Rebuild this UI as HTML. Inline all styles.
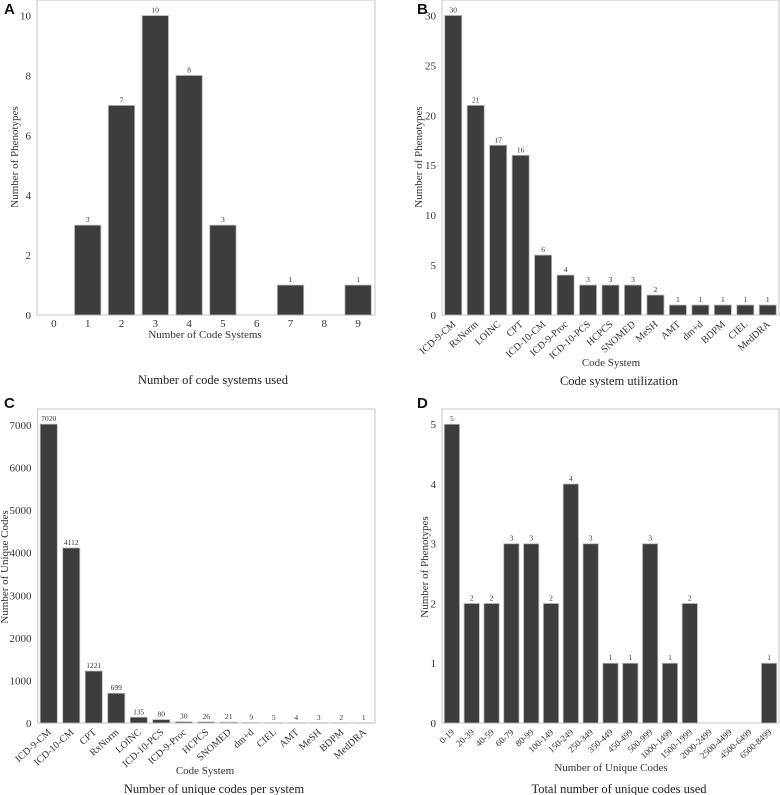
<!DOCTYPE html>
<html><head><meta charset="utf-8"><style>
html,body{margin:0;padding:0;background:#fff;}
svg{display:block;font-family:"Liberation Serif","DejaVu Serif",serif;}
</style></head><body>
<svg id="fig" width="780" height="795" viewBox="0 0 780 795" xmlns="http://www.w3.org/2000/svg"></svg>
<script>
const catsA = ["0","1","2","3","4","5","6","7","8","9"];
const valsA = [0,3,7,10,8,3,0,1,0,1];
const ticksA = [0,2,4,6,8,10];
const catsB = ["ICD-9-CM","RxNorm","LOINC","CPT","ICD-10-CM","ICD-9-Proc","ICD-10-PCS","HCPCS","SNOMED","MeSH","AMT","dm+d","BDPM","CIEL","MedDRA"];
const valsB = [30,21,17,16,6,4,3,3,3,2,1,1,1,1,1];
const ticksB = [0,5,10,15,20,25,30];
const catsC = ["ICD-9-CM","ICD-10-CM","CPT","RxNorm","LOINC","ICD-10-PCS","ICD-9-Proc","HCPCS","SNOMED","dm+d","CIEL","AMT","MeSH","BDPM","MedDRA"];
const valsC = [7020,4112,1221,699,135,80,30,26,21,9,5,4,3,2,1];
const ticksC = [0,1000,2000,3000,4000,5000,6000,7000];
const catsD = ["0-19","20-39","40-59","60-79","80-99","100-149","150-249","250-349","350-449","450-499","500-999","1000-1499","1500-1999","2000-2499","2500-4499","4500-6499","6500-8499"];
const valsD = [5,2,2,3,3,2,4,3,1,1,3,1,2,0,0,0,1];
const ticksD = [0,1,2,3,4,5];

const NS="http://www.w3.org/2000/svg";
const svg=document.getElementById('fig');
function mk(tag,attrs,parent,text){const e=document.createElementNS(NS,tag);for(const k in attrs)e.setAttribute(k,attrs[k]);if(text!==undefined)e.textContent=text;(parent||svg).appendChild(e);return e;}

function panel(o){
  const g=mk('g',{});
  
  
  const L=o.left,R=o.right,T=o.top,B=o.bottom;
  const y=v=>B-(v/o.ymax)*(B-T);
  const band=(R-L)/o.cats.length;
  const x=i=>L+band*(i+0.5);
  const frame=mk('rect',{x:L,y:T,width:R-L,height:B-T,fill:'none',stroke:'#d0d0d0','stroke-width':1.2},g);
  
  
  o.ticks.forEach(t=>{
    const tt=mk('text',{x:L-6,y:y(t)+4,'text-anchor':'end','font-size':11,fill:'#333'},g,String(t));
    
    
  });
  const bw=band*o.bw;
  o.vals.forEach((v,i)=>{
    if(v>0){
      const r=mk('rect',{x:x(i)-bw/2,y:y(v),width:bw,height:B-y(v),fill:'#3d3d3d',stroke:'#bbb','stroke-width':0.8},g);
      
      
      const vl=mk('text',{x:x(i),y:y(v)-3,'text-anchor':'middle','font-size':7.5,fill:'#333'},g,String(v));
      
      
    }
    let lab;
    if(o.rot){
      lab=mk('text',{x:x(i)+3,y:B+10,'text-anchor':'end','font-size':o.labSize,fill:'#333',transform:'rotate(-42 '+(x(i)+3)+' '+(B+10)+')'},g,o.cats[i]);
    }else{
      lab=mk('text',{x:x(i),y:B+12,'text-anchor':'middle','font-size':11,fill:'#333'},g,o.cats[i]);
    }
    
    
  });
  const xl=mk('text',{x:o.xlx,y:o.xly,'text-anchor':'middle','font-size':11,fill:'#333'},g,o.xlabel);
  
  
  const yl=mk('text',{x:o.ylx,y:o.yly,'text-anchor':'middle','font-size':11,fill:'#333',transform:'rotate(-90 '+o.ylx+' '+o.yly+')'},g,o.ylabel);
  
  
  const ti=mk('text',{x:o.tx,y:o.ty,'text-anchor':'middle','font-size':12.5,fill:'#222'},g,o.title);
  
  
  const le=mk('text',{x:o.lx,y:o.ly,'font-size':15,'font-weight':'bold','font-family':'Liberation Sans, sans-serif',fill:'#111'},g,o.id);
  
  
}

panel({id:'A',cats:catsA,vals:valsA,ticks:ticksA,ymax:10.52,left:37,right:375,top:0,bottom:315,bw:0.78,rot:false,
  xlabel:'Number of Code Systems',xlx:205,xly:338,ylabel:'Number of Phenotypes',ylx:18,yly:157,
  title:'Number of code systems used',tx:213,ty:384,lx:4,ly:14});
panel({id:'B',cats:catsB,vals:valsB,ticks:ticksB,ymax:31.55,left:442,right:779,top:0,bottom:315,bw:0.76,rot:true,labSize:10,
  xlabel:'Code System',xlx:611,xly:366,ylabel:'Number of Phenotypes',ylx:422,yly:157,
  title:'Code system utilization',tx:619,ty:385,lx:417,ly:14});
panel({id:'C',cats:catsC,vals:valsC,ticks:ticksC,ymax:7375,left:37.5,right:375,top:409,bottom:723,bw:0.76,rot:true,labSize:10,
  xlabel:'Code System',xlx:205,xly:774,ylabel:'Number of Unique Codes',ylx:8,yly:567,
  title:'Number of unique codes per system',tx:214,ty:793,lx:4,ly:408});
panel({id:'D',cats:catsD,vals:valsD,ticks:ticksD,ymax:5.255,left:442,right:779,top:409,bottom:723,bw:0.77,rot:true,labSize:9,
  xlabel:'Number of Unique Codes',xlx:611,xly:771,ylabel:'Number of Phenotypes',ylx:428,yly:567,
  title:'Total number of unique codes used',tx:619,ty:793,lx:417,ly:408});
</script>
</body></html>
